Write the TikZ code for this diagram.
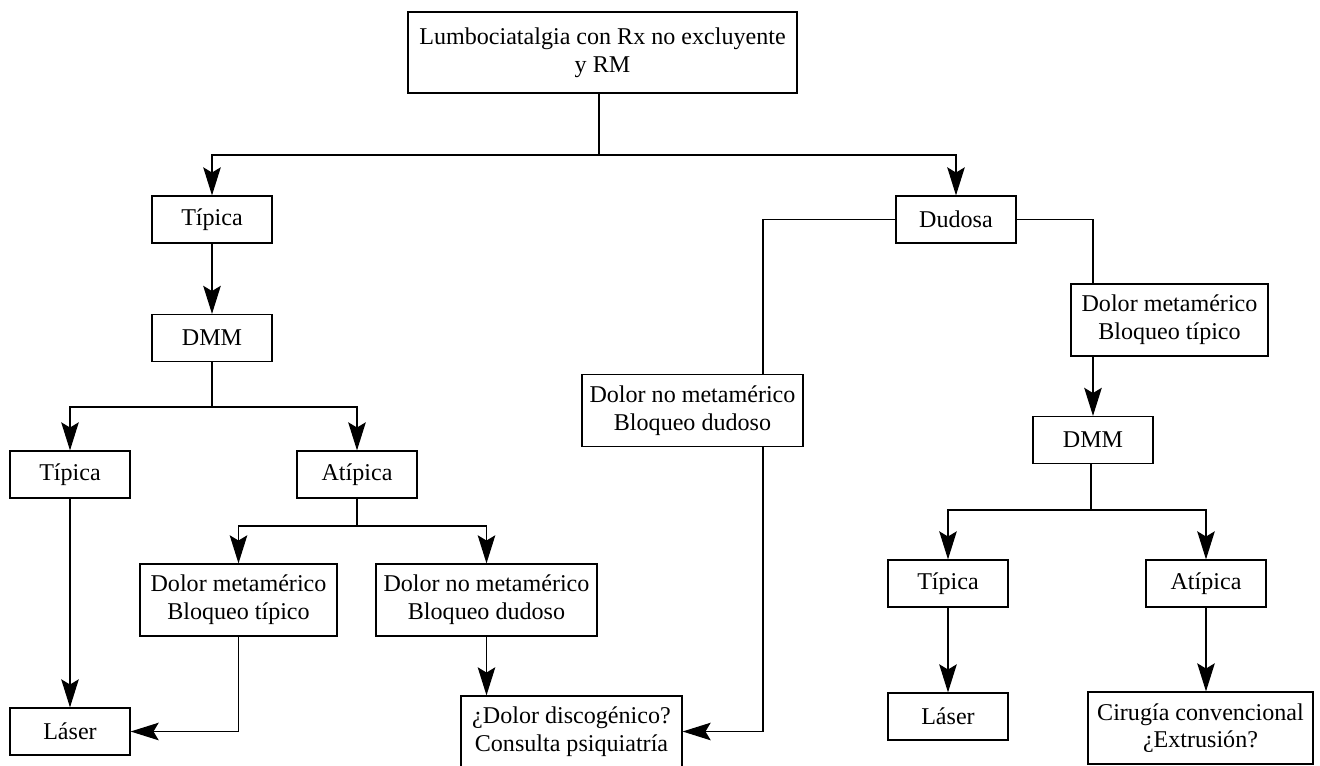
\documentclass[tikz,border=0pt]{standalone}
\usepackage{fontspec}
\setmainfont{Liberation Serif}
\usetikzlibrary{arrows.meta}
\begin{document}
\begin{tikzpicture}[x=0.02cm,y=-0.02cm,
  box/.style={draw, line width=0.7pt, inner sep=0pt, align=center,
    font=\fontsize{13.7pt}{15.8pt}\selectfont},
  small/.style={box, minimum width=2.4cm, minimum height=0.94cm},
  wide/.style={box, minimum width=4.42cm, minimum height=1.44cm},
  conn/.style={line width=0.7pt},
  arr/.style={conn, -{Stealth[length=16pt, width=10pt, inset=3pt]}}]
\useasboundingbox (0,0) rectangle (1320,765);
% nodes
\node[box, minimum width=7.78cm, minimum height=1.62cm] (top) at (602.5,52.5) {Lumbociatalgia con Rx no excluyente\\y RM};
\node[small] (tip1) at (212,219.5) {Típica};
\node[small] (dud) at (956,219.5) {Dudosa};
\node[small] (dmm1) at (212,338) {DMM};
\node[small] (tip2) at (70,474.5) {Típica};
\node[small] (atip1) at (357,474.5) {Atípica};
\node[box, minimum width=3.94cm, minimum height=1.44cm] (dm1) at (238.5,600) {Dolor metamérico\\Bloqueo típico};
\node[wide] (dnm1) at (486.5,600) {Dolor no metamérico\\Bloqueo dudoso};
\node[small] (las1) at (70,731.5) {Láser};
\node[box, minimum width=4.42cm, minimum height=1.42cm] (disc) at (571.5,731.5) {¿Dolor discogénico?\\Consulta psiquiatría};
\node[wide] (dnm2) at (692.5,410.5) {Dolor no metamérico\\Bloqueo dudoso};
\node[box, minimum width=3.94cm, minimum height=1.44cm] (dm2) at (1169.5,320) {Dolor metamérico\\Bloqueo típico};
\node[small] (dmm2) at (1093,440) {DMM};
\node[small] (tip3) at (948,583.5) {Típica};
\node[small] (atip2) at (1206,583.5) {Atípica};
\node[small] (las2) at (948,716.5) {Láser};
\node[box, minimum width=4.5cm, minimum height=1.44cm] (cir) at (1200.5,728) {Cirugía convencional\\¿Extrusión?};
% junctions
\coordinate (j1) at (599,155);
\coordinate (j2) at (212,407);
\coordinate (j3) at (357,526);
\coordinate (j4) at (1091,510);
\coordinate (k) at (763,0);
% connectors
\draw[conn] (top.south -| j1) -- (j1);
\draw[arr] (j1) -| (tip1.north);
\draw[arr] (j1) -| (dud.north);
\draw[arr] (tip1.south) -- (dmm1.north);
\draw[conn] (dmm1.south) -- (j2);
\draw[arr] (j2) -| (tip2.north);
\draw[arr] (j2) -| (atip1.north);
\draw[conn] (atip1.south) -- (j3);
\draw[arr] (j3) -| (dm1.north);
\draw[arr] (j3) -| (dnm1.north);
\draw[arr] (tip2.south) -- (las1.north);
\draw[arr] (dm1.south) |- (las1.east);
\draw[arr] (dnm1.south) -- (dnm1.south |- disc.north);
\draw[conn] (dud.west) -| (dnm2.north -| k);
\draw[arr] (dnm2.south -| k) |- (disc.east);
\draw[conn] (dud.east) -| (dm2.north -| dmm2.north);
\draw[arr] (dm2.south -| dmm2.north) -- (dmm2.north);
\draw[conn] (dmm2.south -| j4) -- (j4);
\draw[arr] (j4) -| (tip3.north);
\draw[arr] (j4) -| (atip2.north);
\draw[arr] (tip3.south) -- (las2.north);
\draw[arr] (atip2.south) -- (atip2.south |- cir.north);
\end{tikzpicture}
\end{document}
